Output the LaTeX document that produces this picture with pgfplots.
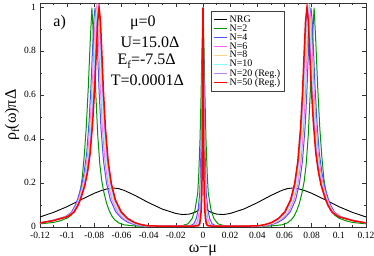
\documentclass[border=0pt]{standalone}
\usepackage{fontspec}
\setmainfont{Liberation Serif}
\usepackage{pgfplots}
\pgfplotsset{compat=1.18}
\definecolor{cG}{RGB}{0,150,0}
\definecolor{cB}{RGB}{80,80,255}
\definecolor{cM}{RGB}{255,100,255}
\definecolor{cO}{RGB}{255,210,140}
\definecolor{cC}{RGB}{130,255,255}
\definecolor{cV}{RGB}{190,130,240}
\definecolor{cR}{RGB}{255,0,0}
\begin{document}
\begin{tikzpicture}
\begin{axis}[
  scale only axis, width=326pt, height=224pt,
  xmin=-0.12, xmax=0.12, ymin=0, ymax=1.02,
  xtick={-0.12,-0.1,-0.08,-0.06,-0.04,-0.02,0,0.02,0.04,0.06,0.08,0.1,0.12},
  ytick={0,0.2,0.4,0.6,0.8,1},
  minor x tick num=1, minor y tick num=1,
  scaled ticks=false,
  tick align=inside, major tick length=4pt, minor tick length=2pt,
  /pgf/number format/assume math mode=true,
  /pgf/number format/fixed,
  tick label style={font=\fontsize{9.5}{10}\selectfont},
  xticklabel style={yshift=-1.2pt},
  yticklabel style={xshift=-0.5pt, yshift=0.8pt},
  axis line style={line width=0.8pt, black!80},
  every tick/.style={black!80, line width=0.6pt},
  xlabel={ω−μ},
  ylabel={ρ\raisebox{-0.45ex}{\fontsize{11}{11}\selectfont f}(ω)πΔ},
  label style={font=\fontsize{16}{18}\selectfont},
  xlabel style={at={(axis description cs:0.5,-0.103)}, anchor=center},
  ylabel style={at={(axis description cs:-0.086,0.5)}, anchor=center},
  legend style={at={(axis description cs:0.524,0.964)}, anchor=north west,
    font=\fontsize{10}{10}\selectfont, draw=black!75, line width=0.6pt,
    row sep=-3.2pt, inner xsep=2.5pt, inner ysep=2pt, cells={anchor=west}},
  legend image code/.code={\draw[#1, line width=1pt] (0pt,0pt) -- (13pt,0pt);},
]
% NRG
\addplot[black, line width=0.9pt] coordinates {
(-0.12,0.047)(-0.11,0.068)(-0.1,0.094)(-0.09,0.125)(-0.08,0.155)(-0.075,0.167)(-0.07,0.176)(-0.066,0.179)(-0.062,0.176)(-0.058,0.168)(-0.05,0.145)(-0.04,0.112)(-0.03,0.083)(-0.02,0.063)(-0.015,0.058)(-0.01,0.06)(-0.006,0.068)(-0.004,0.075)(-0.003,0.082)(-0.002,0.1)(-0.0015,0.125)(-0.001,0.19)(-0.0007,0.29)(-0.0004,0.53)(-0.0002,0.81)(0,1)
(0.0002,0.81)(0.0004,0.53)(0.0007,0.29)(0.001,0.19)(0.0015,0.125)(0.002,0.1)(0.003,0.082)(0.004,0.075)(0.006,0.068)(0.01,0.06)(0.015,0.058)(0.02,0.063)(0.03,0.083)(0.04,0.112)(0.05,0.145)(0.058,0.168)(0.062,0.176)(0.066,0.179)(0.07,0.176)(0.075,0.167)(0.08,0.155)(0.09,0.125)(0.1,0.094)(0.11,0.068)(0.12,0.047)};
\addlegendentry{NRG}
% N=2
\addplot[cG, line width=1pt] coordinates {
(-0.12,0.016)(-0.11,0.022)(-0.105,0.03)(-0.1,0.042)(-0.097,0.055)(-0.094,0.085)(-0.092,0.12)(-0.0905,0.16)(-0.089,0.22)(-0.0875,0.32)(-0.086,0.45)(-0.0845,0.63)(-0.083,0.85)(-0.0818,1)(-0.0805,0.85)(-0.079,0.62)(-0.0775,0.42)(-0.076,0.29)(-0.0745,0.21)(-0.073,0.16)(-0.071,0.11)(-0.069,0.075)(-0.067,0.05)(-0.065,0.034)(-0.062,0.02)(-0.058,0.011)(-0.05,0.006)(-0.04,0.005)(-0.03,0.005)(-0.02,0.006)(-0.015,0.008)(-0.011,0.016)(-0.008,0.04)(-0.0059,0.079)(-0.0039,0.155)(-0.0032,0.23)(-0.0022,0.4)(-0.0015,0.58)(-0.0008,0.8)(0,1)
(0.0008,0.8)(0.0015,0.58)(0.0022,0.4)(0.0032,0.23)(0.0039,0.155)(0.0059,0.079)(0.008,0.04)(0.011,0.016)(0.015,0.008)(0.02,0.006)(0.03,0.005)(0.04,0.005)(0.05,0.006)(0.058,0.011)(0.062,0.02)(0.065,0.034)(0.067,0.05)(0.069,0.075)(0.071,0.11)(0.073,0.16)(0.0745,0.21)(0.076,0.29)(0.0775,0.42)(0.079,0.62)(0.0805,0.85)(0.0818,1)(0.083,0.85)(0.0845,0.63)(0.086,0.45)(0.0875,0.32)(0.089,0.22)(0.0905,0.16)(0.092,0.12)(0.094,0.085)(0.097,0.055)(0.1,0.042)(0.105,0.03)(0.11,0.022)(0.12,0.016)};
\addlegendentry{N=2}
% N=4
\addplot[cB, line width=1pt] coordinates {
(-0.12,0.02)(-0.1115,0.03)(-0.1016,0.048)(-0.0969,0.068)(-0.0941,0.10)(-0.0922,0.13)(-0.0894,0.19)(-0.0875,0.25)(-0.0856,0.34)(-0.0839,0.48)(-0.0825,0.64)(-0.0814,0.80)(-0.0804,0.94)(-0.0795,1)(-0.0786,0.94)(-0.0776,0.80)(-0.0765,0.62)(-0.0751,0.45)(-0.0732,0.30)(-0.071,0.20)(-0.0682,0.125)(-0.0642,0.07)(-0.0598,0.04)(-0.0551,0.022)(-0.0504,0.012)(-0.0457,0.007)(-0.0363,0.005)(-0.02,0.005)(-0.0122,0.006)(-0.0091,0.008)(-0.0067,0.016)(-0.0049,0.04)(-0.0036,0.079)(-0.0024,0.155)(-0.002,0.23)(-0.0013,0.4)(-0.0009,0.58)(-0.0005,0.8)(0,1)
(0.0005,0.8)(0.0009,0.58)(0.0013,0.4)(0.002,0.23)(0.0024,0.155)(0.0036,0.079)(0.0049,0.04)(0.0067,0.016)(0.0091,0.008)(0.0122,0.006)(0.02,0.005)(0.0363,0.005)(0.0457,0.007)(0.0504,0.012)(0.0551,0.022)(0.0598,0.04)(0.0642,0.07)(0.0682,0.125)(0.071,0.20)(0.0732,0.30)(0.0751,0.45)(0.0765,0.62)(0.0776,0.80)(0.0786,0.94)(0.0795,1)(0.0804,0.94)(0.0814,0.80)(0.0825,0.64)(0.0839,0.48)(0.0856,0.34)(0.0875,0.25)(0.0894,0.19)(0.0922,0.13)(0.0941,0.10)(0.0969,0.068)(0.1016,0.048)(0.1115,0.03)(0.12,0.02)};
\addlegendentry{N=4}
% N=6
\addplot[cM, line width=1pt] coordinates {
(-0.12,0.02)(-0.1111,0.03)(-0.1011,0.048)(-0.0963,0.068)(-0.0934,0.10)(-0.0915,0.13)(-0.0886,0.19)(-0.0867,0.25)(-0.0847,0.34)(-0.083,0.48)(-0.0816,0.64)(-0.0804,0.80)(-0.0795,0.94)(-0.0785,1)(-0.0775,0.94)(-0.0766,0.80)(-0.0754,0.62)(-0.074,0.45)(-0.0721,0.30)(-0.0699,0.20)(-0.067,0.125)(-0.0629,0.07)(-0.0583,0.04)(-0.0535,0.022)(-0.0487,0.012)(-0.0439,0.007)(-0.0343,0.005)(-0.02,0.005)(-0.0088,0.006)(-0.0066,0.008)(-0.0048,0.016)(-0.0035,0.04)(-0.0026,0.079)(-0.0017,0.155)(-0.0014,0.23)(-0.00097,0.4)(-0.00066,0.58)(-0.00035,0.8)(0,1)
(0.00035,0.8)(0.00066,0.58)(0.00097,0.4)(0.0014,0.23)(0.0017,0.155)(0.0026,0.079)(0.0035,0.04)(0.0048,0.016)(0.0066,0.008)(0.0088,0.006)(0.02,0.005)(0.0343,0.005)(0.0439,0.007)(0.0487,0.012)(0.0535,0.022)(0.0583,0.04)(0.0629,0.07)(0.067,0.125)(0.0699,0.20)(0.0721,0.30)(0.074,0.45)(0.0754,0.62)(0.0766,0.80)(0.0775,0.94)(0.0785,1)(0.0795,0.94)(0.0804,0.80)(0.0816,0.64)(0.083,0.48)(0.0847,0.34)(0.0867,0.25)(0.0886,0.19)(0.0915,0.13)(0.0934,0.10)(0.0963,0.068)(0.1011,0.048)(0.1111,0.03)(0.12,0.02)};
\addlegendentry{N=6}
% N=8
\addplot[cO, line width=1pt] coordinates {
(-0.12,0.02)(-0.111,0.03)(-0.1008,0.048)(-0.0959,0.068)(-0.093,0.10)(-0.0911,0.13)(-0.0882,0.19)(-0.0862,0.25)(-0.0843,0.34)(-0.0826,0.48)(-0.0811,0.64)(-0.0799,0.80)(-0.079,0.94)(-0.078,1)(-0.077,0.94)(-0.0761,0.80)(-0.0749,0.62)(-0.0734,0.45)(-0.0715,0.30)(-0.0693,0.20)(-0.0664,0.125)(-0.0622,0.07)(-0.0576,0.04)(-0.0528,0.022)(-0.0479,0.012)(-0.0431,0.007)(-0.0334,0.005)(-0.02,0.005)(-0.0075,0.006)(-0.0056,0.008)(-0.0041,0.016)(-0.003,0.04)(-0.0022,0.079)(-0.00145,0.155)(-0.0012,0.23)(-0.00082,0.4)(-0.00056,0.58)(-0.0003,0.8)(0,1)
(0.0003,0.8)(0.00056,0.58)(0.00082,0.4)(0.0012,0.23)(0.00145,0.155)(0.0022,0.079)(0.003,0.04)(0.0041,0.016)(0.0056,0.008)(0.0075,0.006)(0.02,0.005)(0.0334,0.005)(0.0431,0.007)(0.0479,0.012)(0.0528,0.022)(0.0576,0.04)(0.0622,0.07)(0.0664,0.125)(0.0693,0.20)(0.0715,0.30)(0.0734,0.45)(0.0749,0.62)(0.0761,0.80)(0.077,0.94)(0.078,1)(0.079,0.94)(0.0799,0.80)(0.0811,0.64)(0.0826,0.48)(0.0843,0.34)(0.0862,0.25)(0.0882,0.19)(0.0911,0.13)(0.093,0.10)(0.0959,0.068)(0.1008,0.048)(0.111,0.03)(0.12,0.02)};
\addlegendentry{N=8}
% N=10
\addplot[cC, line width=1pt] coordinates {
(-0.12,0.02)(-0.1108,0.03)(-0.1005,0.048)(-0.0956,0.068)(-0.0927,0.10)(-0.0907,0.13)(-0.0878,0.19)(-0.0858,0.25)(-0.0839,0.34)(-0.0821,0.48)(-0.0806,0.64)(-0.0795,0.80)(-0.0785,0.94)(-0.0775,1)(-0.0765,0.94)(-0.0755,0.80)(-0.0744,0.62)(-0.0729,0.45)(-0.0709,0.30)(-0.0687,0.20)(-0.0657,0.125)(-0.0615,0.07)(-0.0569,0.04)(-0.052,0.022)(-0.0471,0.012)(-0.0422,0.007)(-0.0324,0.005)(-0.02,0.005)(-0.0064,0.006)(-0.0048,0.008)(-0.0035,0.016)(-0.0026,0.04)(-0.0019,0.079)(-0.00126,0.155)(-0.001,0.23)(-0.00071,0.4)(-0.00048,0.58)(-0.00026,0.8)(0,1)
(0.00026,0.8)(0.00048,0.58)(0.00071,0.4)(0.001,0.23)(0.00126,0.155)(0.0019,0.079)(0.0026,0.04)(0.0035,0.016)(0.0048,0.008)(0.0064,0.006)(0.02,0.005)(0.0324,0.005)(0.0422,0.007)(0.0471,0.012)(0.052,0.022)(0.0569,0.04)(0.0615,0.07)(0.0657,0.125)(0.0687,0.20)(0.0709,0.30)(0.0729,0.45)(0.0744,0.62)(0.0755,0.80)(0.0765,0.94)(0.0775,1)(0.0785,0.94)(0.0795,0.80)(0.0806,0.64)(0.0821,0.48)(0.0839,0.34)(0.0858,0.25)(0.0878,0.19)(0.0907,0.13)(0.0927,0.10)(0.0956,0.068)(0.1005,0.048)(0.1108,0.03)(0.12,0.02)};
\addlegendentry{N=10}
% N=20
\addplot[cV, line width=1pt] coordinates {
(-0.12,0.019)(-0.111,0.03)(-0.1005,0.048)(-0.0955,0.068)(-0.0925,0.10)(-0.0905,0.13)(-0.0875,0.19)(-0.0855,0.25)(-0.0835,0.34)(-0.0817,0.48)(-0.0802,0.64)(-0.079,0.80)(-0.078,0.94)(-0.077,1)(-0.076,0.94)(-0.075,0.80)(-0.0738,0.62)(-0.0723,0.45)(-0.0703,0.30)(-0.068,0.20)(-0.065,0.125)(-0.0607,0.07)(-0.056,0.04)(-0.051,0.022)(-0.046,0.012)(-0.041,0.007)(-0.031,0.005)(-0.02,0.005)(-0.0054,0.006)(-0.0041,0.008)(-0.003,0.016)(-0.0022,0.04)(-0.0016,0.079)(-0.00106,0.155)(-0.00087,0.23)(-0.0006,0.4)(-0.00041,0.58)(-0.00022,0.8)(0,1)
(0.00022,0.8)(0.00041,0.58)(0.0006,0.4)(0.00087,0.23)(0.00106,0.155)(0.0016,0.079)(0.0022,0.04)(0.003,0.016)(0.0041,0.008)(0.0054,0.006)(0.02,0.005)(0.031,0.005)(0.041,0.007)(0.046,0.012)(0.051,0.022)(0.056,0.04)(0.0607,0.07)(0.065,0.125)(0.068,0.20)(0.0703,0.30)(0.0723,0.45)(0.0738,0.62)(0.075,0.80)(0.076,0.94)(0.077,1)(0.078,0.94)(0.079,0.80)(0.0802,0.64)(0.0817,0.48)(0.0835,0.34)(0.0855,0.25)(0.0875,0.19)(0.0905,0.13)(0.0925,0.10)(0.0955,0.068)(0.1005,0.048)(0.111,0.03)(0.12,0.019)};
\addlegendentry{N=20 (Reg.)}
% N=50
\addplot[cR, line width=1.5pt] coordinates {
(-0.12,0.02)(-0.1105,0.03)(-0.1,0.048)(-0.095,0.068)(-0.092,0.10)(-0.09,0.13)(-0.087,0.19)(-0.085,0.25)(-0.083,0.34)(-0.0812,0.48)(-0.0797,0.64)(-0.0785,0.80)(-0.0775,0.94)(-0.0765,1)(-0.0755,0.94)(-0.0745,0.80)(-0.0733,0.62)(-0.0718,0.45)(-0.0698,0.30)(-0.0675,0.20)(-0.0645,0.125)(-0.0602,0.07)(-0.0555,0.04)(-0.0505,0.022)(-0.0455,0.012)(-0.0405,0.007)(-0.0305,0.005)(-0.02,0.005)(-0.0044,0.006)(-0.0033,0.008)(-0.0024,0.016)(-0.0018,0.04)(-0.0013,0.079)(-0.00086,0.155)(-0.0007,0.23)(-0.00048,0.4)(-0.00033,0.58)(-0.00018,0.8)(0,1)
(0.00018,0.8)(0.00033,0.58)(0.00048,0.4)(0.0007,0.23)(0.00086,0.155)(0.0013,0.079)(0.0018,0.04)(0.0024,0.016)(0.0033,0.008)(0.0044,0.006)(0.02,0.005)(0.0305,0.005)(0.0405,0.007)(0.0455,0.012)(0.0505,0.022)(0.0555,0.04)(0.0602,0.07)(0.0645,0.125)(0.0675,0.20)(0.0698,0.30)(0.0718,0.45)(0.0733,0.62)(0.0745,0.80)(0.0755,0.94)(0.0765,1)(0.0775,0.94)(0.0785,0.80)(0.0797,0.64)(0.0812,0.48)(0.083,0.34)(0.085,0.25)(0.087,0.19)(0.09,0.13)(0.092,0.10)(0.095,0.068)(0.1,0.048)(0.1105,0.03)(0.12,0.02)};
\addlegendentry{N=50 (Reg.)}
\node[font=\fontsize{16}{18}\selectfont] at (axis cs:-0.1055,0.93) {a)};
\node[font=\fontsize{16}{18}\selectfont] at (axis cs:-0.0443,0.933) {μ=0};
\node[font=\fontsize{16}{18}\selectfont] at (axis cs:-0.039,0.842) {U=15.0Δ};
\node[font=\fontsize{16}{18}\selectfont] at (axis cs:-0.0415,0.755) {E\raisebox{-0.5ex}{\fontsize{11}{11}\selectfont f}=-7.5Δ};
\node[font=\fontsize{16}{18}\selectfont] at (axis cs:-0.041,0.668) {T=0.0001Δ};
\end{axis}
\pgfresetboundingbox
\path (-40pt,-28.7pt) rectangle (334pt,227.3pt);
\end{tikzpicture}
\end{document}
